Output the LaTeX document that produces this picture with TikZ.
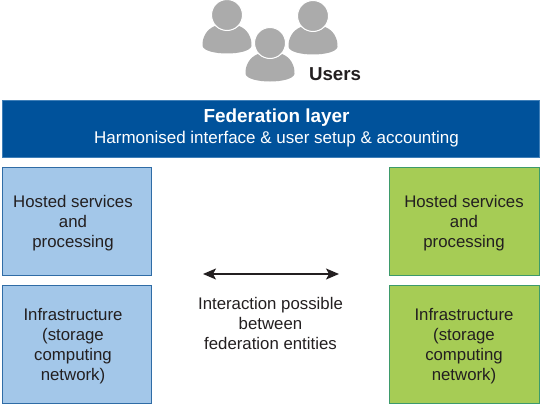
\documentclass[tikz,border=0pt]{standalone}
\usepackage{fontspec}
\setmainfont{Liberation Sans}
\usepackage{tikz}
\usetikzlibrary{arrows.meta,positioning}
\definecolor{fedblue}{HTML}{00529B}
\definecolor{fededge}{HTML}{3F7FB8}
\definecolor{hostblue}{HTML}{A3C7E9}
\definecolor{hostedge}{HTML}{2F6CA6}
\definecolor{hostgreen}{HTML}{A6CC55}
\definecolor{greenedge}{HTML}{3D9A6B}
\definecolor{usergray}{HTML}{ABABAB}
\definecolor{inktext}{HTML}{231F20}

\begin{document}
\begin{tikzpicture}[x=1pt,y=-1pt,
  box/.style={draw,line width=0.9pt,inner sep=0pt,outer sep=0pt,minimum width=149pt},
  bluebox/.style={box,fill=hostblue,draw=hostedge},
  greenbox/.style={box,fill=hostgreen,draw=greenedge},
  boxtext/.style={align=center,text=inktext,font=\fontsize{16.8}{20.2}\selectfont},
  user/.pic={
    \fill[usergray] (-24.5,31) .. controls (-25,22) and (-20,14) .. (-12,11)
      .. controls (-6,17) and (6,17) .. (12,11)
      .. controls (20,14) and (25,22) .. (24.5,31)
      .. controls (22,41) and (-22,41) .. (-24.5,31) -- cycle;
    \fill[usergray,draw=white,line width=1pt] (0,0) circle (15.5);
  }]
\useasboundingbox (0,0) rectangle (540,404);
% users
\pic at (227,15) {user};
\pic at (313,16) {user};
\pic at (270,43) {user};
\node[font=\fontsize{18.7}{22}\selectfont\bfseries,text=inktext] (users) at (335,74) {Users};
% federation layer
\node[draw=fededge,fill=fedblue,line width=0.9pt,inner sep=0pt,minimum width=537pt,minimum height=57pt] (fedlayer) at (270.5,128.5) {};
\node[text=white,align=center,font=\fontsize{17}{21}\selectfont] (fedtext) at (276.5,127.5)
  {{\fontsize{18.9}{21}\selectfont\bfseries Federation layer}\\Harmonised interface \& user setup \& accounting};
% left column
\node[bluebox,minimum height=108pt] (hostleft) at (76.5,221) {};
\node[bluebox,minimum height=118pt] (infraleft) at (76.5,344) {};
\node[boxtext] (hostlefttext) at (73,223) {Hosted services\\and\\processing};
\node[boxtext] (infralefttext) at (73,346) {Infrastructure\\(storage\\computing\\network)};
% right column
\node[greenbox,minimum width=150pt,minimum height=108pt] (hostright) at (464,221) {};
\node[greenbox,minimum width=150pt,minimum height=118pt] (infraright) at (464,344) {};
\node[boxtext] (hostrighttext) at (464,223) {Hosted services\\and\\processing};
\node[boxtext] (infrarighttext) at (464,346) {Infrastructure\\(storage\\computing\\network)};
% interaction
\coordinate (arrowleft) at (203,274);
\coordinate (arrowright) at (339,274);
\draw[{Stealth[length=13pt,width=11pt,inset=3pt]}-{Stealth[length=13pt,width=11pt,inset=3pt]},line width=1.2pt,draw=inktext] (arrowleft) -- (arrowright);
\node[boxtext] (interaction) at (270.5,323.5)
  {Interaction possible\\between\\federation entities};
\end{tikzpicture}
\end{document}
